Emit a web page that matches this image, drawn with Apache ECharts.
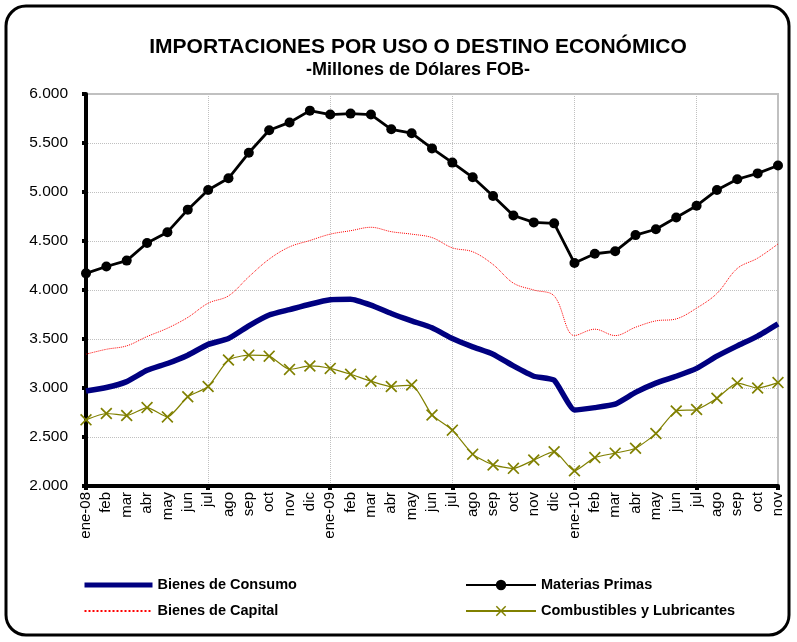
<!DOCTYPE html>
<html>
<head>
<meta charset="utf-8">
<script src="https://cdn.jsdelivr.net/npm/echarts@6/dist/echarts.min.js"></script>
<style>
  html, body { margin: 0; padding: 0; background: #fff; }
  #chart { width: 797px; height: 642px; }
</style>
</head>
<body>
<div id="chart"></div>
<script>
const months = [
  'ene-08', 'feb', 'mar', 'abr', 'may', 'jun', 'jul', 'ago', 'sep', 'oct', 'nov', 'dic',
  'ene-09', 'feb', 'mar', 'abr', 'may', 'jun', 'jul', 'ago', 'sep', 'oct', 'nov', 'dic',
  'ene-10', 'feb', 'mar', 'abr', 'may', 'jun', 'jul', 'ago', 'sep', 'oct', 'nov'
]

const bienesConsumo = [
  2970, 3005, 3065, 3180, 3250, 3335, 3445, 3505, 3635, 3745, 3800, 3855,
  3900, 3905, 3845, 3760, 3685, 3615, 3505, 3420, 3345, 3225, 3120, 3080,
  2775, 2800, 2835, 2955, 3050, 3120, 3200, 3325, 3430, 3530, 3655
]

const materiasPrimas = [
  4170, 4240, 4300, 4480, 4590, 4820, 5020, 5140, 5400, 5630, 5710, 5830,
  5790, 5800, 5790, 5640, 5600, 5445, 5300, 5150, 4960, 4760, 4690, 4680,
  4275, 4370, 4395, 4560, 4620, 4740, 4860, 5020, 5130, 5190, 5270
]

const bienesCapital = [
  3345, 3395, 3430, 3525, 3610, 3720, 3865, 3940, 4135, 4315, 4440, 4505,
  4570, 4605, 4640, 4595, 4570, 4535, 4430, 4390, 4260, 4070, 4000, 3940,
  3535, 3600, 3535, 3620, 3685, 3705, 3815, 3965, 4220, 4325, 4470
]

const combustibles = [
  2675, 2740, 2720, 2800, 2705, 2910, 3015, 3285, 3335, 3325, 3190, 3225,
  3200, 3140, 3070, 3015, 3030, 2725, 2570, 2325, 2215, 2180, 2265, 2350,
  2155, 2290, 2335, 2385, 2535, 2765, 2780, 2895, 3050, 3000, 3055
]

const fontFamily = 'Liberation Sans, Arial, sans-serif'
const xMark = 'path://M0,1L1,0L5,4L9,0L10,1L6,5L10,9L9,10L5,6L1,10L0,9L4,5Z'
const noDot = { color: 'rgba(0,0,0,0)', borderWidth: 0 }
const legendText = { fontSize: 14.5, fontWeight: 'bold', color: '#000', fontFamily, lineHeight: 16 }

function fmt(v) {
  return String(Math.round(v)).replace(/\B(?=(\d{3})+(?!\d))/g, '.')
}

const chart = echarts.init(document.getElementById('chart'))
chart.setOption({
  animation: false,
  textStyle: { fontFamily },
  title: [
    {
      text: 'IMPORTACIONES POR USO O DESTINO ECONÓMICO',
      left: 418, top: 37, textAlign: 'center', padding: 0,
      textStyle: { fontSize: 21, fontWeight: 'bold', color: '#000', fontFamily }
    },
    {
      text: '-Millones de Dólares FOB-',
      left: 418, top: 61, textAlign: 'center', padding: 0,
      textStyle: { fontSize: 18, fontWeight: 'bold', color: '#000', fontFamily }
    }
  ],
  graphic: [{
    type: 'rect',
    shape: { x: 6, y: 6, width: 783, height: 629, r: 20 },
    style: { fill: 'none', stroke: '#000', lineWidth: 3 },
    silent: true
  }],
  legend: [
    {
      left: 82, top: 577, orient: 'vertical', itemGap: 10, padding: 0,
      itemWidth: 68, itemHeight: 13,
      data: [
        { name: 'Bienes de Consumo', itemStyle: noDot, lineStyle: { width: 5 } },
        { name: 'Bienes de Capital', itemStyle: noDot }
      ],
      textStyle: legendText
    },
    {
      left: 465, top: 577, orient: 'vertical', itemGap: 10, padding: 0,
      itemWidth: 70, itemHeight: 13,
      data: ['Materias Primas', 'Combustibles y Lubricantes'],
      textStyle: legendText
    }
  ],
  grid: {
    left: 86, right: 19, top: 94, bottom: 156,
    show: true, borderColor: '#c0c0c0', borderWidth: 2
  },
  xAxis: {
    type: 'category',
    boundaryGap: false,
    data: months,
    axisLine: { lineStyle: { color: '#000', width: 4 } },
    axisTick: { interval: 5, length: 4, lineStyle: { color: '#000', width: 4 } },
    axisLabel: { interval: 0, rotate: 90, margin: 6, fontSize: 15, color: '#000', fontFamily },
    splitLine: { show: true, interval: 5, lineStyle: { color: '#c0c0c0', type: 'dotted', width: 1 } }
  },
  yAxis: {
    type: 'value',
    min: 2000, max: 6000, interval: 500,
    axisLine: { show: true, lineStyle: { color: '#000', width: 4 } },
    axisTick: { show: true, length: 4, lineStyle: { color: '#000', width: 4 } },
    axisLabel: { margin: 18, fontSize: 15.5, color: '#000', fontFamily, formatter: fmt },
    splitLine: { lineStyle: { color: '#c0c0c0', type: 'dotted', width: 1 } }
  },
  series: [
    {
      name: 'Bienes de Consumo', type: 'line', data: bienesConsumo,
      symbol: 'none', smooth: 0.15, z: 3,
      lineStyle: { color: '#000080', width: 5.5 }, itemStyle: { color: '#000080' }
    },
    {
      name: 'Materias Primas', type: 'line', data: materiasPrimas,
      symbol: 'circle', symbolSize: 10, z: 4,
      lineStyle: { color: '#000', width: 2.8 }, itemStyle: { color: '#000' }
    },
    {
      name: 'Bienes de Capital', type: 'line', data: bienesCapital,
      symbol: 'none', smooth: 0.35, z: 2,
      lineStyle: { color: '#ff0000', width: 1, type: 'dotted' }, itemStyle: { color: '#ff0000' }
    },
    {
      name: 'Combustibles y Lubricantes', type: 'line', data: combustibles,
      symbol: xMark, symbolSize: 12, smooth: 0.2, z: 3,
      lineStyle: { color: '#808000', width: 1.2 }, itemStyle: { color: '#808000' }
    }
  ]
})
</script>
</body>
</html>
